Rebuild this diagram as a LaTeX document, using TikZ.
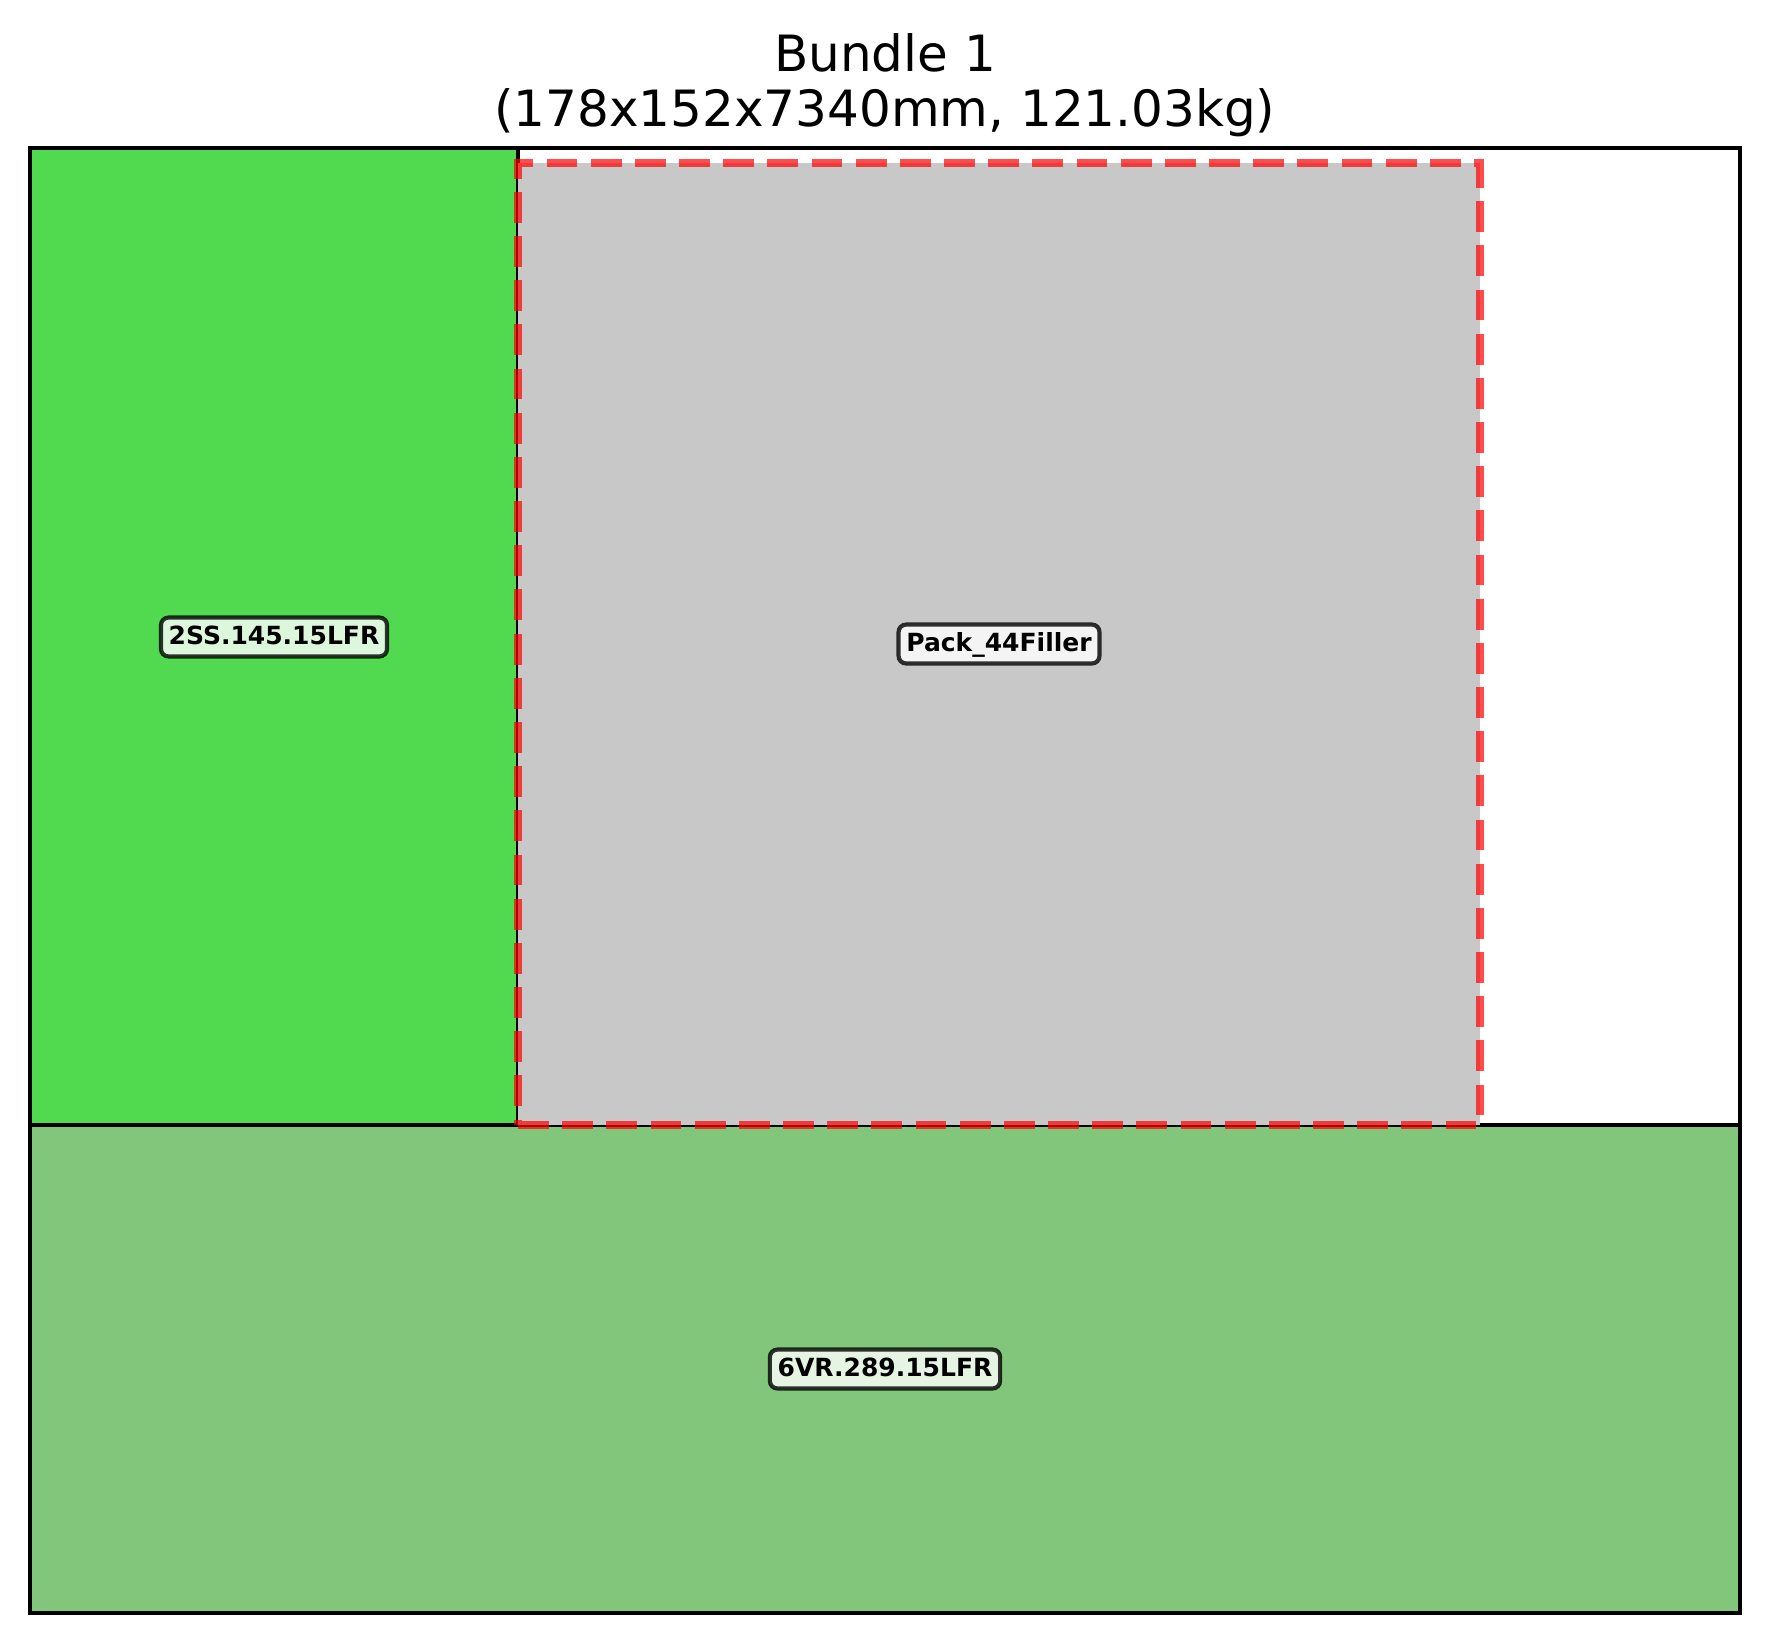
\documentclass[tikz,border=0pt]{standalone}
\usepackage{fontspec}
\setmainfont{DejaVu Sans}
\definecolor{greenA}{RGB}{81,217,80}
\definecolor{greenB}{RGB}{129,198,122}
\definecolor{fillgrey}{RGB}{200,200,200}
\tikzset{
  piece/.style={draw=black,line width=1.5pt},
  filler/.style={fill=fillgrey,draw=red,draw opacity=0.7,line width=3pt,dash pattern=on 11.1pt off 4.8pt},
  tag/.style={draw=black,draw opacity=0.8,line width=1.5pt,rounded corners=2.7pt,inner xsep=2.8pt,inner ysep=3pt,
    text height=6.8pt,text depth=1.2pt,font=\fontsize{9}{10.8}\selectfont\bfseries},
  heading/.style={anchor=base,font=\fontsize{18}{20}\selectfont}
}
\begin{document}
\begin{tikzpicture}[x=0.36pt,y=-0.36pt]
        \useasboundingbox (0,0) rectangle (1770,1644);
        %% Title
        \node[heading] (title) at (885,71) {Bundle 1};
        \node[heading] (size) at (885,126.5) {(178x152x7340mm, 121.03kg)};
        %% Pieces
        \draw[piece,fill=greenA] (30,148) rectangle (518,1125);
        \draw[piece,fill=greenB] (30,1125) rectangle (1740,1613);
        %% Filler
        \draw[filler] (518,1125) -- (1480,1125) -- (1480,163) -- (518,163) -- cycle;
        %% Frame
        \draw[piece] (30,148) rectangle (1740,1613);
        %% Labels
        \node[tag,fill=white!80!greenA] (ss) at (274,637) {2SS.145.15LFR};
        \node[tag,fill=white!80!fillgrey] (pack) at (999,644) {Pack\_44Filler};
        \node[tag,fill=white!80!greenB] (vr) at (885,1369) {6VR.289.15LFR};
    \end{tikzpicture}
\end{document}
